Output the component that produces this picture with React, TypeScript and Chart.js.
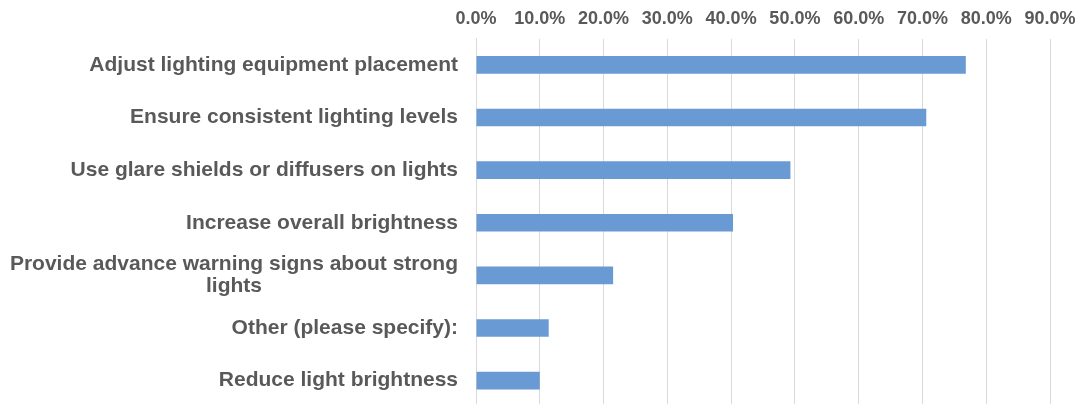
import React, { useEffect, useRef } from "react";
import { Chart, registerables } from "chart.js";

Chart.register(...registerables);

const categories: string[][] = [
  ["Adjust lighting equipment placement"],
  ["Ensure consistent lighting levels"],
  ["Use glare shields or diffusers on lights"],
  ["Increase overall brightness"],
  ["Provide advance warning signs about strong", "lights"],
  ["Other (please specify):"],
  ["Reduce light brightness"],
];
const values: number[] = [76.8, 70.6, 49.3, 40.3, 21.5, 11.4, 10.0];
const xMin = 0;
const xMax = 90;
const xStep = 10;

const TEXT = "#595959";
const GRID = "#d9d9d9";
const BAR = "#6a9ad3";
const FONT = "'Liberation Sans', Arial, sans-serif";

const labelPlugin = {
  id: "categoryLabels",
  afterDraw(chart: any) {
    const ctx = chart.ctx as CanvasRenderingContext2D;
    const y = chart.scales.y;
    const right = chart.chartArea.left - 18;
    ctx.save();
    ctx.font = `bold 21px ${FONT}`;
    ctx.fillStyle = TEXT;
    ctx.textBaseline = "middle";
    ctx.textAlign = "center";
    const lh = 22;
    categories.forEach((lines, i) => {
      const cy = y.getPixelForValue(i);
      const w = Math.max(...lines.map((l) => ctx.measureText(l).width));
      const cx = right - w / 2;
      const y0 = cy - ((lines.length - 1) * lh) / 2;
      lines.forEach((l, j) => ctx.fillText(l, cx, y0 + j * lh));
    });
    ctx.restore();
  },
};

export default function App() {
  const ref = useRef<HTMLCanvasElement | null>(null);
  useEffect(() => {
    document.body.style.margin = "0";
    document.documentElement.style.overflow = "hidden";
    document.body.style.overflow = "hidden";
    if (!ref.current) return;
    const chart = new Chart(ref.current, {
      type: "bar",
      data: {
        labels: categories.map((c) => c.join(" ")),
        datasets: [
          {
            data: values,
            backgroundColor: BAR,
            borderWidth: 0,
            categoryPercentage: 1,
            barPercentage: 0.335,
          },
        ],
      },
      plugins: [labelPlugin],
      options: {
        indexAxis: "y",
        animation: false,
        responsive: true,
        maintainAspectRatio: false,
        layout: { padding: { left: 0, right: 28, top: 0, bottom: 0 } },
        plugins: { legend: { display: false }, tooltip: { enabled: false } },
        scales: {
          x: {
            position: "top",
            min: xMin,
            max: xMax,
            ticks: {
              stepSize: xStep,
              callback: (v: any) => Number(v).toFixed(1) + "%",
              font: { family: FONT, weight: "bold", size: 18 },
              color: TEXT,
              padding: 9,
              maxRotation: 0,
            },
            grid: { color: GRID, drawTicks: false, lineWidth: 1 },
            border: { display: false },
            afterFit: (s: any) => {
              s.paddingRight = 0;
              s.paddingLeft = 0;
            },
          },
          y: {
            ticks: { display: false },
            grid: { display: false },
            border: { display: true, color: GRID },
            afterFit: (s: any) => {
              s.width = 476;
            },
          },
        },
      },
    });
    return () => chart.destroy();
  }, []);
  return (
    <div style={{ width: 1078, height: 408, position: "relative", top: -1 }}>
      <canvas ref={ref} />
    </div>
  );
}
